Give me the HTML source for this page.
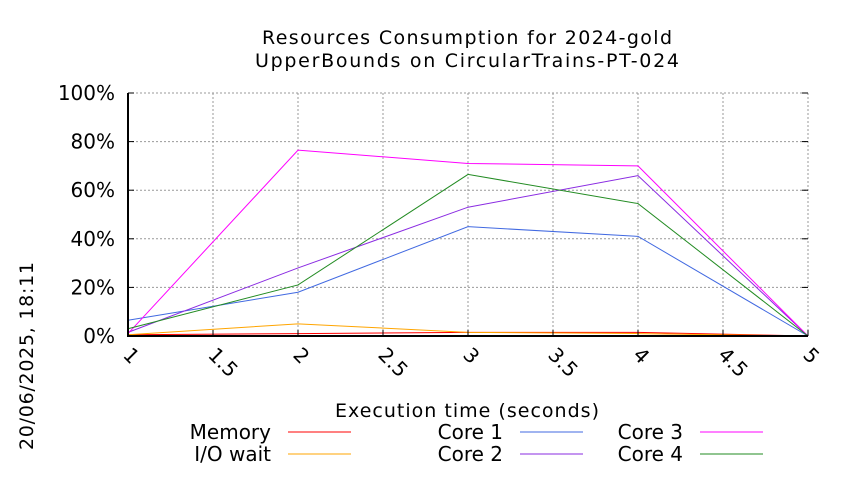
<!DOCTYPE html>
<html><head><meta charset="utf-8"><style>
body{margin:0;background:#fff;}
svg text{font-family:"DejaVu Sans","Liberation Sans",sans-serif;fill:#000;}
</style></head><body>
<svg width="850" height="475" xmlns="http://www.w3.org/2000/svg">
<g id="grid"></g>
<g id="series"></g>
<g id="axes"></g>
<text x="467" y="44" font-size="19" text-anchor="middle" textLength="410">Resources Consumption for 2024-gold</text>
<text x="467" y="67" font-size="19" text-anchor="middle" textLength="424">UpperBounds on CircularTrains-PT-024</text>
<text x="467" y="417" font-size="19" text-anchor="middle" textLength="264">Execution time (seconds)</text>
<text transform="translate(33,450) rotate(-90)" font-size="19" textLength="188">20/06/2025, 18:11</text>
<g id="legend"></g>
</svg>
<script>
const xValues=[1,2,3,4,5];
const memory=[0.5,1,1.5,1.5,0];
const ioWait=[0.5,5,1.5,1,0];
const core1=[6.5,18,45,41,0];
const core2=[1.5,28,53,66,0];
const core3=[1,76.5,71,70,0];
const core4=[3,21,66.5,54.5,0];
const xTicks=["1","1.5","2","2.5","3","3.5","4","4.5","5"];
const yTicks=["0%","20%","40%","60%","80%","100%"];
const L=128,R=808,T=93,B=336;
const sx=v=>L+(v-1)/4*(R-L);
const sy=v=>B-v/100*(B-T);
const NS="http://www.w3.org/2000/svg";
function mk(t,a,p){const e=document.createElementNS(NS,t);for(const k in a)e.setAttribute(k,a[k]);p.appendChild(e);return e;}
const grid=document.getElementById('grid'),axes=document.getElementById('axes'),ser=document.getElementById('series'),leg=document.getElementById('legend');
yTicks.forEach((t,i)=>{const v=i*20,y=sy(v);
 const g=mk('line',{x1:L,x2:R,y1:y,y2:y,stroke:'#999','stroke-dasharray':'2,2','stroke-width':1},grid);
 
 
 const tx=mk('text',{x:L-13,y:y+7,'font-size':20,'text-anchor':'end'},axes);tx.textContent=t;
 
 
 mk('line',{x1:L,x2:L+6,y1:y,y2:y,stroke:'#000'},axes);mk('line',{x1:R-6,x2:R,y1:y,y2:y,stroke:'#000'},axes);});
xTicks.forEach((t)=>{const x=sx(parseFloat(t));
 const g=mk('line',{x1:x,x2:x,y1:T,y2:B,stroke:'#999','stroke-dasharray':'2,2','stroke-width':1},grid);
 
 
 mk('line',{x1:x,x2:x,y1:B-6,y2:B,stroke:'#000'},axes);
 const tx=mk('text',{transform:`translate(${x-6},${B+20}) rotate(45)`,'font-size':20},axes);tx.textContent=t;
 
 });
mk('path',{d:`M${L},${T}V${B}H${R}`,fill:'none',stroke:'#000','stroke-width':2},axes);
const series=[["Memory",memory,"#ff0000"],["I/O wait",ioWait,"#ffa500"],["Core 1",core1,"#4169e1"],["Core 2",core2,"#8a2be2"],["Core 3",core3,"#ff00ff"],["Core 4",core4,"#228b22"]];
series.forEach(([n,d,c],i)=>{
 const p=mk('polyline',{points:d.map((v,j)=>sx(xValues[j])+','+sy(v)).join(' '),fill:'none',stroke:c,'stroke-width':1},ser);
 
 
 const col=Math.floor(i/2),row=i%2,tx0=[271,503,683][col],y=432+row*22;
 const t=mk('text',{x:tx0,y:y+7,'font-size':20,'text-anchor':'end'},leg);t.textContent=n;
 
 
 const l=mk('line',{x1:tx0+17,x2:tx0+80,y1:y,y2:y,stroke:c,'stroke-width':1},leg);
 
 
});
</script>
</body></html>
